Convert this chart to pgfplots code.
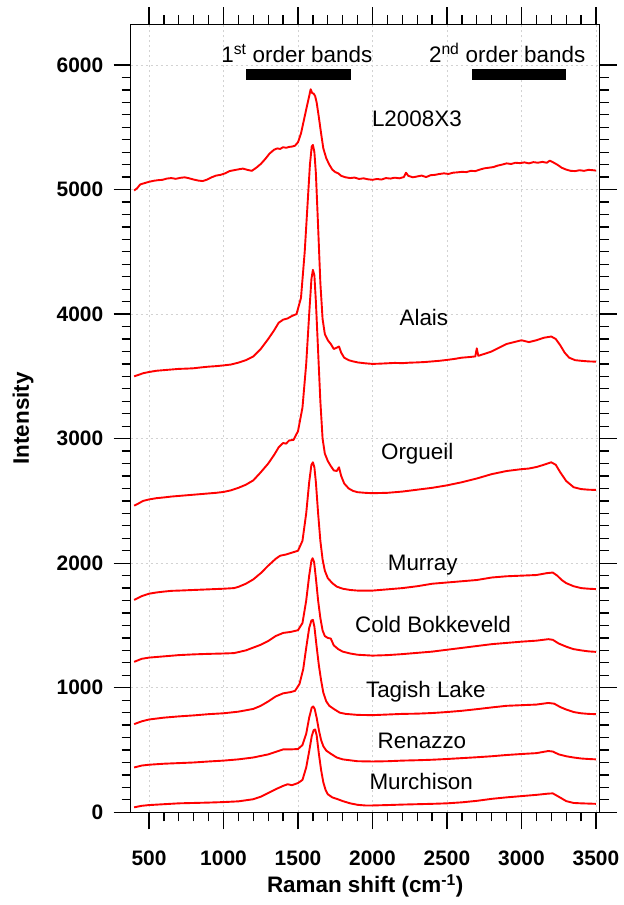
\documentclass[border=0pt]{standalone}
\usepackage{fontspec}
\setmainfont{Liberation Sans}
\usepackage{pgfplots}
\pgfplotsset{compat=1.18}
\definecolor{spec}{RGB}{255,0,0}
\pgfplotsset{
  frame/.style={
    at={(0,0)}, anchor=south west,
    scale only axis, width=469bp, height=787.8bp,
    xmin=377, xmax=3525, ymin=0, ymax=6325,
    axis line style={-, line width=1.4bp},
    xtick={500,1000,...,3500}, ytick={0,1000,...,6000},
    minor x tick num=4, minor y tick num=9,
    tick align=outside,
    major tick length=17bp, minor tick length=9bp,
    every tick/.style={black, line width=1.3bp},
  },
  spc/.style={spec, line width=1.9bp, mark=none, line join=round},
}
\begin{document}
\begin{tikzpicture}
\path[use as bounding box] (-130.7bp,-92.7bp) rectangle (493.3bp,812.3bp);
\begin{axis}[frame,
  axis x line*=bottom, axis y line*=left,
  grid=major,
  major grid style={gray!35, dash pattern=on 2.5bp off 2.5bp, line width=0.6bp},
  tick label style={font=\fontsize{21}{24}\selectfont\bfseries},
  xticklabel style={yshift=-18bp},
  yticklabel style={xshift=-7bp},
  /pgf/number format/assume math mode=true,
  /pgf/number format/set thousands separator={},
  xlabel={Raman shift (cm\textsuperscript{-1})},
  ylabel={Intensity},
  label style={font=\fontsize{22.5}{26}\selectfont\bfseries},
  xlabel style={at={(axis description cs:0.5,-0.1024)}, anchor=base},
  ylabel style={at={(axis description cs:-0.2296,0.5)}, anchor=center},
]
% band bars
\addplot[black, line width=10.7bp, line cap=butt] coordinates {(1152,5922) (1855,5922)};
\addplot[black, line width=10.7bp, line cap=butt] coordinates {(2668,5922) (3299,5922)};
% L2008X3
\addplot[spc] coordinates {(400,4992) (420,5010) (440,5040) (460,5048) (480,5055) (500,5062) (530,5070) (560,5075) (590,5078) (620,5088) (650,5092) (680,5086) (710,5094) (740,5098) (770,5090) (800,5080) (830,5072) (860,5068) (890,5080) (920,5098) (950,5112) (980,5118) (1010,5130) (1040,5148) (1070,5155) (1100,5162) (1130,5168) (1160,5158) (1190,5150) (1220,5175) (1250,5205) (1280,5245) (1310,5290) (1340,5320) (1360,5330) (1380,5326) (1400,5340) (1420,5335) (1440,5342) (1460,5345) (1480,5352) (1500,5380) (1520,5450) (1540,5560) (1560,5670) (1575,5750) (1585,5805) (1595,5775) (1605,5770) (1615,5750) (1625,5700) (1640,5580) (1655,5450) (1670,5330) (1690,5250) (1710,5200) (1730,5160) (1750,5140) (1770,5130) (1790,5110) (1820,5098) (1850,5092) (1880,5096) (1910,5085) (1940,5090) (1970,5082) (2000,5078) (2030,5085) (2060,5080) (2090,5092) (2120,5088) (2150,5095) (2180,5090) (2210,5100) (2225,5135) (2240,5110) (2270,5098) (2300,5105) (2330,5112) (2360,5100) (2390,5115) (2420,5118) (2450,5125) (2480,5130) (2510,5125) (2540,5135) (2570,5138) (2600,5142) (2630,5140) (2660,5150) (2690,5148) (2720,5160) (2750,5170) (2780,5175) (2810,5180) (2840,5192) (2870,5200) (2900,5210) (2930,5205) (2960,5215) (2990,5212) (3020,5218) (3050,5210) (3080,5220) (3110,5215) (3140,5222) (3170,5215) (3190,5232) (3210,5220) (3240,5200) (3270,5175) (3300,5160) (3330,5150) (3360,5148) (3390,5155) (3420,5150) (3450,5158) (3480,5155) (3500,5152)};
% Alais
\addplot[spc] coordinates {(400,3500) (430,3512) (460,3525) (500,3535) (550,3545) (600,3550) (650,3555) (700,3560) (750,3562) (800,3565) (850,3572) (900,3578) (950,3582) (1000,3588) (1050,3595) (1100,3610) (1150,3630) (1200,3660) (1250,3720) (1300,3800) (1340,3870) (1370,3930) (1400,3955) (1430,3965) (1460,3985) (1490,4000) (1520,4130) (1545,4500) (1565,4900) (1580,5200) (1592,5345) (1600,5358) (1610,5300) (1620,5130) (1635,4700) (1650,4250) (1665,3960) (1680,3840) (1700,3790) (1720,3760) (1740,3720) (1760,3730) (1775,3740) (1790,3690) (1810,3650) (1840,3630) (1870,3620) (1900,3612) (1950,3605) (2000,3600) (2050,3602) (2100,3605) (2150,3608) (2200,3606) (2250,3610) (2300,3612) (2350,3615) (2400,3620) (2450,3625) (2500,3632) (2550,3640) (2600,3650) (2650,3655) (2690,3660) (2700,3725) (2710,3665) (2750,3680) (2800,3700) (2850,3730) (2900,3760) (2950,3775) (3000,3790) (3050,3775) (3100,3790) (3150,3810) (3200,3820) (3230,3800) (3260,3750) (3290,3690) (3320,3650) (3360,3630) (3400,3625) (3450,3620) (3500,3618)};
% Orgueil
\addplot[spc] coordinates {(400,2462) (430,2480) (460,2500) (500,2512) (550,2522) (600,2528) (650,2535) (700,2540) (750,2545) (800,2550) (850,2555) (900,2560) (950,2565) (1000,2572) (1050,2585) (1100,2605) (1150,2630) (1200,2665) (1250,2730) (1300,2800) (1340,2870) (1370,2930) (1400,2965) (1420,2960) (1440,2985) (1470,2990) (1500,3060) (1530,3250) (1555,3600) (1575,4000) (1590,4280) (1600,4355) (1610,4310) (1620,4100) (1635,3700) (1650,3300) (1665,3000) (1680,2880) (1700,2820) (1720,2780) (1740,2745) (1760,2740) (1775,2770) (1790,2700) (1810,2640) (1840,2600) (1870,2580) (1900,2570) (1950,2565) (2000,2562) (2100,2565) (2200,2575) (2300,2590) (2400,2605) (2500,2625) (2600,2650) (2700,2680) (2800,2715) (2900,2740) (3000,2755) (3050,2760) (3100,2772) (3150,2790) (3200,2810) (3230,2790) (3260,2730) (3300,2660) (3350,2610) (3400,2595) (3450,2590) (3500,2588)};
% Murray
\addplot[spc] coordinates {(400,1705) (450,1735) (500,1755) (550,1765) (600,1772) (650,1778) (700,1780) (800,1785) (900,1790) (1000,1795) (1070,1800) (1100,1810) (1150,1835) (1200,1870) (1250,1920) (1300,1980) (1350,2035) (1380,2060) (1420,2070) (1460,2085) (1500,2100) (1530,2180) (1555,2400) (1575,2650) (1590,2790) (1600,2810) (1610,2770) (1620,2650) (1635,2400) (1650,2180) (1665,2030) (1680,1940) (1700,1880) (1730,1840) (1760,1812) (1800,1795) (1850,1785) (1900,1780) (2000,1780) (2100,1790) (2200,1800) (2300,1815) (2400,1835) (2500,1845) (2600,1855) (2700,1865) (2800,1885) (2900,1895) (3000,1900) (3100,1905) (3170,1920) (3210,1925) (3240,1900) (3270,1865) (3300,1840) (3350,1815) (3400,1800) (3450,1795) (3500,1792)};
% Cold Bokkeveld
\addplot[spc] coordinates {(400,1208) (450,1232) (500,1242) (600,1252) (700,1262) (800,1268) (900,1272) (1000,1275) (1070,1278) (1150,1300) (1250,1345) (1300,1375) (1350,1415) (1400,1440) (1450,1448) (1500,1462) (1530,1520) (1555,1700) (1575,1900) (1590,2020) (1598,2040) (1608,2010) (1620,1880) (1635,1700) (1650,1560) (1665,1460) (1680,1415) (1700,1400) (1720,1395) (1740,1340) (1770,1310) (1800,1290) (1850,1275) (1900,1265) (2000,1258) (2100,1262) (2200,1270) (2300,1280) (2400,1290) (2500,1305) (2600,1320) (2700,1335) (2800,1350) (2900,1360) (3000,1370) (3100,1378) (3180,1390) (3210,1385) (3250,1355) (3300,1330) (3350,1310) (3400,1300) (3450,1292) (3500,1288)};
% Tagish Lake
\addplot[spc] coordinates {(400,708) (450,730) (500,745) (600,760) (700,770) (800,778) (900,788) (1000,795) (1100,808) (1200,830) (1250,855) (1300,890) (1350,930) (1400,955) (1450,965) (1480,975) (1510,1030) (1535,1150) (1555,1320) (1575,1480) (1590,1540) (1600,1545) (1610,1490) (1625,1330) (1640,1180) (1655,1060) (1670,960) (1690,890) (1710,855) (1740,830) (1780,800) (1820,790) (1900,782) (2000,780) (2100,785) (2200,790) (2300,792) (2400,797) (2500,805) (2600,815) (2700,828) (2800,842) (2900,855) (3000,860) (3100,865) (3180,878) (3220,872) (3260,845) (3300,825) (3350,805) (3400,795) (3450,790) (3500,788)};
% Renazzo
\addplot[spc] coordinates {(400,360) (450,375) (500,382) (600,390) (700,395) (800,400) (900,408) (1000,415) (1100,425) (1200,440) (1300,465) (1350,485) (1400,505) (1450,505) (1500,508) (1530,540) (1555,630) (1575,760) (1592,840) (1602,850) (1612,830) (1625,760) (1640,660) (1655,580) (1670,530) (1690,495) (1720,470) (1760,440) (1800,425) (1900,410) (2000,408) (2100,410) (2200,415) (2300,418) (2400,422) (2500,428) (2600,435) (2700,442) (2800,450) (2900,460) (3000,468) (3100,475) (3180,492) (3210,488) (3250,465) (3300,450) (3350,440) (3400,432) (3450,428) (3500,425)};
% Murchison
\addplot[spc] coordinates {(400,40) (450,52) (500,58) (600,65) (700,72) (800,75) (900,78) (1000,82) (1100,88) (1200,105) (1250,125) (1300,155) (1350,185) (1400,212) (1430,225) (1460,218) (1500,235) (1530,260) (1555,360) (1575,490) (1592,610) (1605,660) (1615,665) (1625,620) (1640,470) (1655,340) (1670,240) (1685,180) (1700,145) (1730,120) (1760,108) (1800,90) (1850,72) (1900,60) (1950,55) (2000,55) (2100,58) (2200,62) (2300,65) (2400,68) (2500,72) (2600,80) (2700,92) (2800,108) (2900,120) (3000,130) (3100,140) (3180,150) (3210,152) (3250,125) (3300,90) (3350,75) (3400,72) (3450,70) (3500,68)};
% labels
\begin{scope}[every node/.style={font=\fontsize{22.5}{26}\selectfont, anchor=base, inner sep=0pt}]
\node at (axis cs:1492,6020) {1\textsuperscript{st} order bands};
\node at (axis cs:2904,6020) {2\textsuperscript{nd} order bands};
\node at (axis cs:2298,5509) {L2008X3};
\node at (axis cs:2345,3908) {Alais};
\node at (axis cs:2300,2829) {Orgueil};
\node at (axis cs:2337,1942) {Murray};
\node at (axis cs:2406,1445) {Cold Bokkeveld};
\node at (axis cs:2358,923) {Tagish Lake};
\node at (axis cs:2332,516) {Renazzo};
\node at (axis cs:2327,185) {Murchison};
\end{scope}
\end{axis}
\begin{axis}[frame,
  axis x line*=top, axis y line*=right,
  xticklabels={}, yticklabels={},
]
\end{axis}
\end{tikzpicture}
\end{document}
